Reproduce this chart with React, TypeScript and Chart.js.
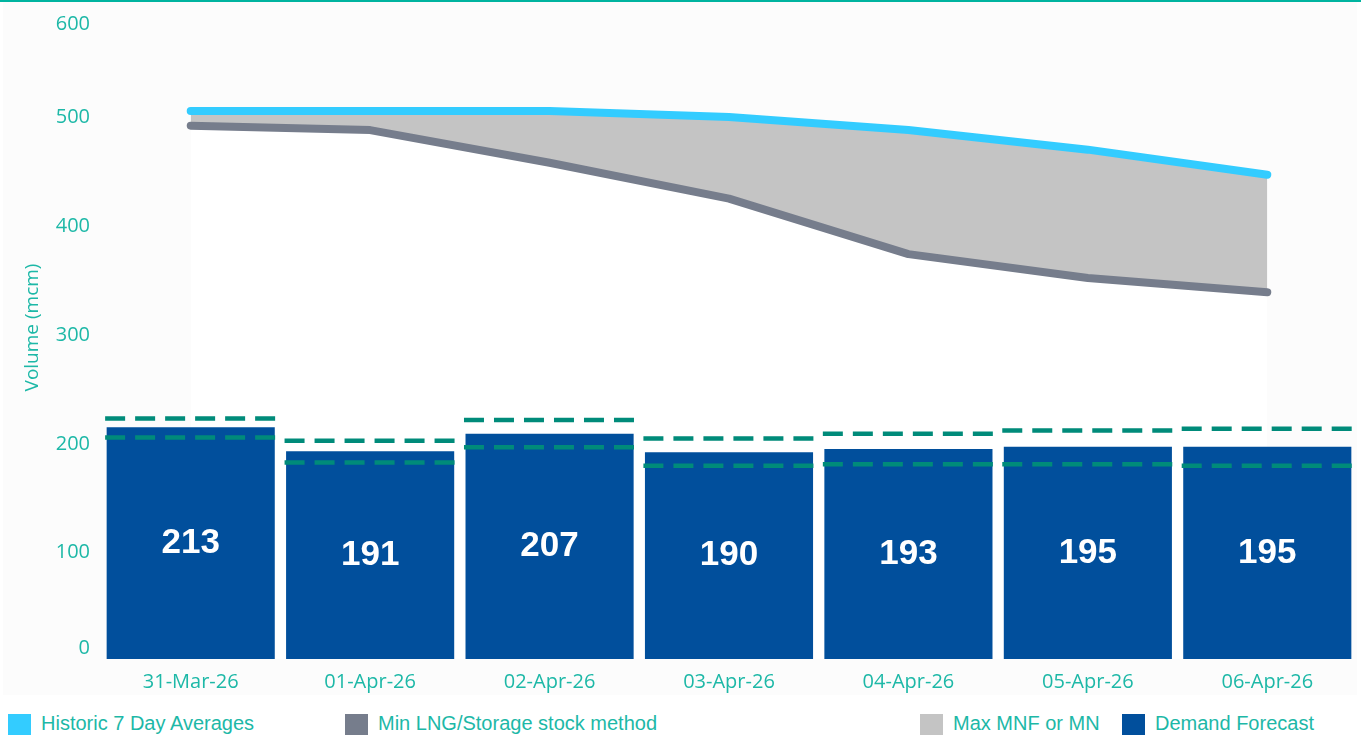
import React, { useEffect, useRef } from "react";
import { Chart, registerables } from "chart.js";

Chart.register(...registerables);

const categories = ["31-Mar-26", "01-Apr-26", "02-Apr-26", "03-Apr-26", "04-Apr-26", "05-Apr-26", "06-Apr-26"];
const demandForecast = [213, 191, 207, 190, 193, 195, 195];
const historic7DayAverages = [503.5, 503.5, 503.5, 498, 486, 468, 445];
const minLngStorage = [490, 486, 456, 423, 372, 350, 337];
const upperDashed = [221, 200.5, 219.5, 202.5, 207, 210, 211.5];
const lowerDashed = [203.5, 180.5, 194.5, 177.5, 179, 179, 177.5];
const yTickValues = [0, 100, 200, 300, 400, 500, 600];
const legendLabels = ["Historic 7 Day Averages", "Min LNG/Storage stock method", "Max MNF or MN", "Demand Forecast"];
const legendColors = ["#33ccff", "#767d8c", "#c4c4c4", "#014f9c"];
const legendLefts = [8, 345, 920, 1122];

const TEAL = "#1db8a7";
const DASH_TEAL = "#008b7a";
const HALF_SEG = 0.477;

function stepSegments(values: number[]) {
  const pts: { x: number; y: number | null }[] = [];
  values.forEach((v, i) => {
    pts.push({ x: i - HALF_SEG, y: v });
    pts.push({ x: i + HALF_SEG, y: v });
    pts.push({ x: i + 0.5, y: null });
  });
  return pts;
}

const barLabelPlugin = {
  id: "barLabelPlugin",
  afterDatasetsDraw(chart: any) {
    const ctx = chart.ctx;
    const meta = chart.getDatasetMeta(0);
    ctx.save();
    ctx.font = 'bold 35px "Liberation Sans", Arial, sans-serif';
    ctx.fillStyle = "#ffffff";
    ctx.textAlign = "center";
    ctx.textBaseline = "middle";
    meta.data.forEach((bar: any, i: number) => {
      const p = bar.getProps(["x", "y", "base"], true);
      ctx.fillText(String(demandForecast[i]), p.x, (p.y + p.base) / 2);
    });
    ctx.restore();
  },
};

const yAxisPlugin = {
  id: "yAxisPlugin",
  afterDraw(chart: any) {
    const ctx = chart.ctx;
    const area = chart.chartArea;
    const yScale = chart.scales.y;
    ctx.save();
    ctx.font = '20px "Open Sans", sans-serif';
    ctx.fillStyle = TEAL;
    ctx.textAlign = "right";
    ctx.textBaseline = "middle";
    yTickValues.forEach((v) => {
      let py = yScale.getPixelForValue(v);
      py = Math.max(area.top + 16, Math.min(area.bottom - 13, py));
      ctx.fillText(String(v), area.left - 11, py + 2.5);
    });
    ctx.translate(30, (area.top + area.bottom) / 2 - 5);
    ctx.rotate(-Math.PI / 2);
    ctx.textAlign = "center";
    ctx.font = '19px "Open Sans", sans-serif';
    ctx.fillText("Volume (mcm)", 0, 0);
    ctx.restore();
  },
};

export default function App() {
  const canvasRef = useRef<HTMLCanvasElement | null>(null);

  useEffect(() => {
    document.body.style.margin = "0";
    const canvas = canvasRef.current;
    if (!canvas) return;
    const chart = new Chart(canvas, {
      type: "bar",
      data: {
        labels: categories,
        datasets: [
          {
            type: "bar",
            label: "Demand Forecast",
            data: demandForecast,
            backgroundColor: "#014f9c",
            borderWidth: 0,
            categoryPercentage: 1,
            barPercentage: 0.937,
            grouped: false,
            order: 10,
          } as any,
          {
            type: "line",
            label: "Historic 7 Day Averages",
            data: historic7DayAverages,
            borderColor: "#33ccff",
            backgroundColor: "#c4c4c4",
            borderWidth: 8,
            pointRadius: 0,
            tension: 0,
            borderCapStyle: "round",
            borderJoinStyle: "round",
            fill: "+1",
            order: 2,
          } as any,
          {
            type: "line",
            label: "Min LNG/Storage stock method",
            data: minLngStorage,
            borderColor: "#767d8c",
            backgroundColor: "#ffffff",
            borderWidth: 8,
            pointRadius: 0,
            tension: 0,
            borderCapStyle: "round",
            borderJoinStyle: "round",
            fill: "origin",
            order: 3,
          } as any,
          {
            type: "line",
            label: "Upper",
            data: stepSegments(upperDashed),
            xAxisID: "x2",
            borderColor: DASH_TEAL,
            borderWidth: 4.5,
            borderDash: [20, 10],
            pointRadius: 0,
            spanGaps: false,
            fill: false,
            order: 0,
          } as any,
          {
            type: "line",
            label: "Lower",
            data: stepSegments(lowerDashed),
            xAxisID: "x2",
            borderColor: DASH_TEAL,
            borderWidth: 4.5,
            borderDash: [20, 10],
            pointRadius: 0,
            spanGaps: false,
            fill: false,
            order: 0,
          } as any,
        ],
      },
      options: {
        animation: false,
        responsive: true,
        maintainAspectRatio: false,
        layout: { padding: { left: 98, right: 0, top: 4, bottom: 0 } },
        plugins: {
          legend: { display: false },
          tooltip: { enabled: false },
          filler: { drawTime: "beforeDatasetsDraw" },
        } as any,
        scales: {
          x: {
            type: "category",
            offset: true,
            grid: { display: false, drawTicks: false },
            border: { display: false },
            ticks: {
              color: TEAL,
              font: { family: '"Open Sans", sans-serif', size: 20 },
              padding: 11,
              maxRotation: 0,
              autoSkip: false,
            },
          },
          x2: {
            type: "linear",
            display: false,
            offset: false,
            grid: { offset: false },
            min: -0.5,
            max: 6.5,
          },
          y: {
            display: false,
            min: 0,
            max: 600,
          },
        },
      },
      plugins: [barLabelPlugin, yAxisPlugin],
    });
    return () => chart.destroy();
  }, []);

  return (
    <div
      style={{
        position: "relative",
        width: 1361,
        height: 735,
        background: "#ffffff",
        overflow: "hidden",
        fontFamily: '"Liberation Sans", Arial, sans-serif',
      }}
    >
      <div style={{ position: "absolute", left: 0, top: 0, width: 1361, height: 2, background: "#00b4a0" }} />
      <div style={{ position: "absolute", left: 3, top: 2, width: 1354, height: 693, background: "#fcfcfc" }} />
      <div style={{ position: "absolute", left: 3, top: 2, width: 1354, height: 703 }}>
        <canvas ref={canvasRef} />
      </div>
      {legendLabels.map((label, i) => (
        <div key={label}>
          <div
            style={{
              position: "absolute",
              left: legendLefts[i],
              top: 714,
              width: 23,
              height: 22,
              background: legendColors[i],
            }}
          />
          <div
            style={{
              position: "absolute",
              left: legendLefts[i] + 33,
              top: 712,
              fontSize: 20,
              lineHeight: "22px",
              color: TEAL,
              whiteSpace: "nowrap",
            }}
          >
            {label}
          </div>
        </div>
      ))}
    </div>
  );
}
